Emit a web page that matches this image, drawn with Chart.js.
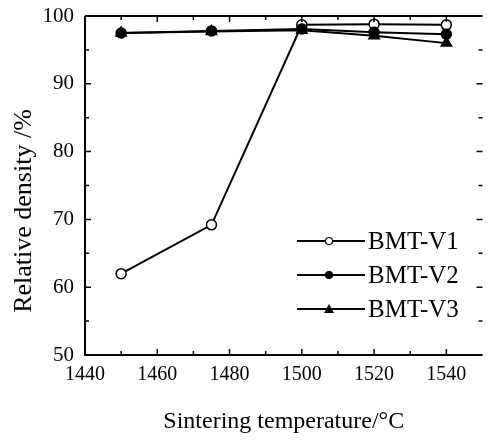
<!DOCTYPE html>
<html>
<head>
<meta charset="utf-8">
<script src="https://cdn.jsdelivr.net/npm/chart.js@4"></script>
<style>
  html, body { margin: 0; padding: 0; background: #fff; }
  #wrap { width: 490px; height: 440px; }
</style>
</head>
<body>
<div id="wrap"><canvas id="chart" width="490" height="440"></canvas></div>
<script>
const temperatures = [1450, 1475, 1500, 1520, 1540];
const bmtV1 = [62.0, 69.2, 98.7, 98.8, 98.7];
const bmtV2 = [97.5, 97.8, 98.1, 97.6, 97.3];
const bmtV3 = [97.5, 97.7, 97.9, 97.1, 96.0];
const seriesNames = ['BMT-V1', 'BMT-V2', 'BMT-V3'];
const xTickLabels = [1440, 1460, 1480, 1500, 1520, 1540];
const yTickLabels = [50, 60, 70, 80, 90, 100];
const xTitle = 'Sintering temperature/°C';
const yTitle = 'Relative density /%';

const FONT = "'Liberation Serif', 'DejaVu Serif', serif";

function toPoints(values) {
  return temperatures.map((t, i) => ({ x: t, y: values[i] }));
}

const styles = [
  { pointStyle: 'circle', backgroundColor: '#fff', radius: 5 },
  { pointStyle: 'circle', backgroundColor: '#000', radius: 5 },
  { pointStyle: 'triangle', backgroundColor: '#000', radius: 6 },
];

// inward ticks on all four sides + frame lines
const frameTicks = {
  id: 'frameTicks',
  afterDraw(chart) {
    const { ctx, chartArea: a } = chart;
    const xs = chart.scales.x;
    const ys = chart.scales.y;
    ctx.save();
    ctx.strokeStyle = '#000';
    ctx.lineWidth = 2;
    ctx.beginPath();
    ctx.moveTo(a.left, a.top);
    ctx.lineTo(a.right, a.top);
    ctx.moveTo(a.left, a.top);
    ctx.lineTo(a.left, a.bottom);
    ctx.lineTo(a.right, a.bottom);
    ctx.stroke();
    ctx.lineWidth = 1.5;
    ctx.beginPath();
    for (let v = 1440; v <= 1550; v += 10) {
      const px = xs.getPixelForValue(v);
      if (px <= a.left + 1 || px >= a.right - 1) continue;
      const len = v % 20 === 0 ? 6 : 4;
      ctx.moveTo(px, a.bottom);
      ctx.lineTo(px, a.bottom - len);
      ctx.moveTo(px, a.top);
      ctx.lineTo(px, a.top + len);
    }
    for (let v = 50; v <= 100; v += 5) {
      const py = ys.getPixelForValue(v);
      if (py <= a.top + 1 || py >= a.bottom - 1) continue;
      const len = v % 10 === 0 ? 6 : 4;
      ctx.moveTo(a.left, py);
      ctx.lineTo(a.left + len, py);
      ctx.moveTo(a.right, py);
      ctx.lineTo(a.right - len, py);
    }
    ctx.stroke();

    // y title, sits a bit below the middle of the axis like the original
    ctx.fillStyle = '#000';
    ctx.font = '26px ' + FONT;
    ctx.textAlign = 'center';
    ctx.textBaseline = 'middle';
    ctx.translate(24, 211);
    ctx.rotate(-Math.PI / 2);
    ctx.fillText(yTitle, 0, 0);
    ctx.restore();
  },
};

// legend drawn inside the plot, lower right
const innerLegend = {
  id: 'innerLegend',
  afterDraw(chart) {
    const { ctx } = chart;
    const x0 = 297, x1 = 365, rows = [241, 275, 309];
    ctx.save();
    ctx.font = '25px ' + FONT;
    ctx.textBaseline = 'middle';
    chart.data.datasets.forEach((ds, i) => {
      const y = rows[i];
      ctx.strokeStyle = '#000';
      ctx.lineWidth = 2;
      ctx.beginPath();
      ctx.moveTo(x0, y);
      ctx.lineTo(x1, y);
      ctx.stroke();
      const cx = (x0 + x1) / 2 - 2;
      ctx.fillStyle = ds.pointBackgroundColor;
      ctx.lineWidth = 1.2;
      if (ds.pointStyle === 'triangle') {
        ctx.beginPath();
        ctx.moveTo(cx, y - 5);
        ctx.lineTo(cx + 5, y + 4);
        ctx.lineTo(cx - 5, y + 4);
        ctx.closePath();
        ctx.fill();
      } else {
        ctx.beginPath();
        ctx.arc(cx, y, 3.5, 0, Math.PI * 2);
        ctx.fill();
        ctx.stroke();
      }
      ctx.fillStyle = '#000';
      ctx.fillText(ds.label, x1 + 3, y + 1);
    });
    ctx.restore();
  },
};

const seriesValues = [bmtV1, bmtV2, bmtV3];
const datasets = seriesValues.map((vals, i) => ({
  label: seriesNames[i],
  data: toPoints(vals),
  borderColor: '#000',
  borderWidth: 2,
  pointStyle: styles[i].pointStyle,
  pointRadius: styles[i].radius,
  pointBackgroundColor: styles[i].backgroundColor,
  pointBorderColor: '#000',
  pointBorderWidth: 1.5,
  tension: 0,
  order: 3 - i,
}));

new Chart(document.getElementById('chart'), {
  type: 'line',
  data: { datasets: datasets },
  options: {
    responsive: false,
    animation: false,
    layout: { padding: { top: 16, right: 0, left: 0, bottom: 0 } },
    plugins: {
      legend: { display: false },
      tooltip: { enabled: false },
    },
    scales: {
      x: {
        type: 'linear',
        min: 1440,
        max: 1550,
        border: { display: false },
        grid: { display: false },
        afterFit(scale) { scale.height = 85; },
        afterBuildTicks(scale) {
          scale.ticks = xTickLabels.map((v) => ({ value: v }));
        },
        ticks: {
          color: '#000',
          padding: 0,
          font: { family: FONT, size: 20 },
          callback: (v) => String(v),
        },
        title: {
          display: true,
          text: xTitle,
          color: '#000',
          font: { family: FONT, size: 24 },
          padding: { top: 33 },
        },
      },
      y: {
        type: 'linear',
        min: 50,
        max: 100,
        border: { display: false },
        grid: { display: false },
        afterFit(scale) { scale.width = 85; },
        afterBuildTicks(scale) {
          scale.ticks = yTickLabels.map((v) => ({ value: v }));
        },
        ticks: {
          color: '#000',
          padding: 3,
          font: { family: FONT, size: 21 },
          callback: (v) => String(v),
        },
        title: { display: false },
      },
    },
  },
  plugins: [frameTicks, innerLegend],
});
</script>
</body>
</html>
